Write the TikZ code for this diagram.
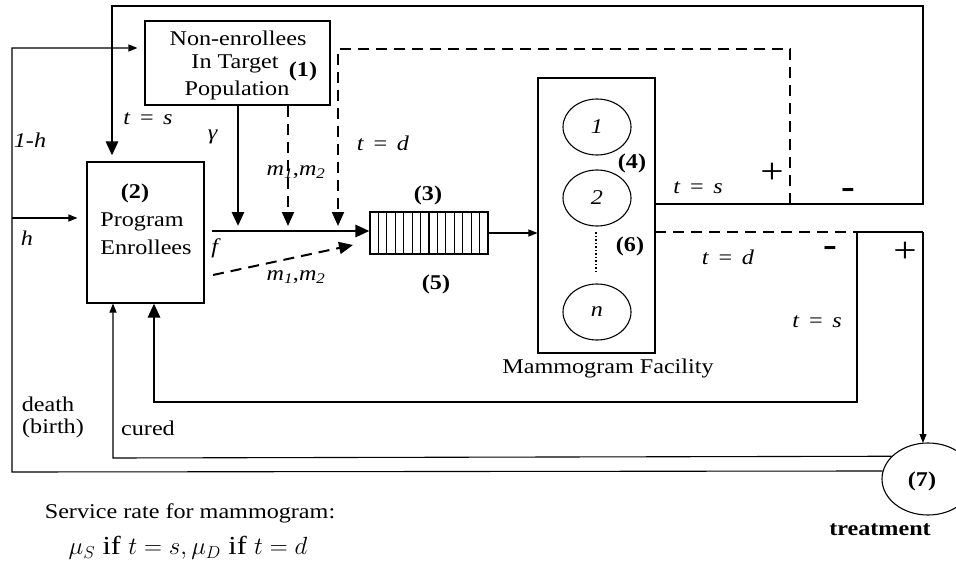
\documentclass[tikz,border=0pt]{standalone}
\usepackage{fontspec}
\setmainfont{Liberation Serif}[FakeStretch=1.15]
\usetikzlibrary{arrows.meta,shapes.geometric}
\begin{document}
\begin{tikzpicture}[x=1pt,y=-1pt,
  thk/.style={line width=2.8pt},
  thn/.style={line width=1.1pt},
  dsh/.style={line width=2pt, dash pattern=on 11pt off 7pt},
  bigtip/.style={-{Triangle[length=14pt,width=12pt]}},
  smalltip/.style={-{Triangle[length=9pt,width=7pt]}},
  box/.style={draw, line width=1.1pt, inner sep=0pt},
  srv/.style={draw, ellipse, line width=1.1pt, inner sep=0pt, minimum width=68pt, minimum height=56pt, font=\fontsize{21}{24}\selectfont},
  lbl/.style={inner sep=0pt, font=\fontsize{21}{25}\selectfont},
  sgn/.style={inner sep=0pt, font=\fontsize{36}{36}\selectfont}]
\useasboundingbox (0,0) rectangle (956,567);
% boxes
\node[box, minimum width=185pt, minimum height=84pt] (ne) at (237.5,63) {};
\node[box, minimum width=117pt, minimum height=141pt] (prog) at (145.5,232.5) {};
\node[box, minimum width=118pt, minimum height=42pt] (queue) at (429,233) {};
\foreach \i in {1,...,13} \draw[thn] ({370+\i*118/14},212) -- ({370+\i*118/14},254);
\node[box, minimum width=117pt, minimum height=275pt] (fac) at (596.5,215.5) {};
\node[srv] (s1) at (597,127) {\textit{1}};
\node[srv] (s2) at (597,198) {\textit{2}};
\node[srv] (sn) at (597,312) {\textit{n}};
\coordinate (d1) at (596,232);
\coordinate (d2) at (596,272);
\draw[line width=1.5pt, dash pattern=on 1.5pt off 2pt] (d1) -- (d2);
\node[draw, ellipse, line width=1.1pt, minimum width=92pt, minimum height=72pt, inner sep=0pt] (circ) at (928,479) {};
% coordinates
\coordinate (L48) at (12,48);
\coordinate (L218) at (12,218);
\coordinate (L472) at (12,472);
\coordinate (C458) at (113,458);
\coordinate (T0) at (112,6);
\coordinate (T1) at (923,6);
\coordinate (T2) at (923,204);
\coordinate (F204) at (655,204);
\coordinate (D1) at (790,204);
\coordinate (D2) at (790,49);
\coordinate (D3) at (338,49);
\coordinate (D4) at (338,231);
\coordinate (F232) at (655,232);
\coordinate (B1) at (857,232);
\coordinate (B2) at (857,402);
\coordinate (B3) at (154,402);
\coordinate (B4) at (923,232);
\coordinate (B5) at (923,443);
\coordinate (G1) at (238,231);
\coordinate (M1) at (288,231);
\coordinate (Fst) at (212,231);
\coordinate (Q1) at (213,275);
\coordinate (Q2) at (353,245);
% thin feedback lines
\draw[thn, smalltip, shorten >=7pt] (circ.170) -- (L472) -- (L48) -- (ne.west |- L48);
\draw[thn, smalltip, shorten >=9pt] (L218) -- (prog.west |- L218);
\draw[thn, smalltip] (circ.148) -- (C458) -- (prog.south -| C458);
% thick loops
\draw[thk, bigtip, shorten >=6pt] (F204) -- (T2) -- (T1) -- (T0) -- (prog.north -| T0);
\draw[thk, bigtip] (B1) -- (B2) -- (B3) -- (prog.south -| B3);
\draw[thn] (B1) -- (B4);
\draw[thn, smalltip] (B4) -- (B5);
\draw[dsh] (F232) -- (B1);
\draw[dsh, bigtip, shorten >=5pt] (D1) -- (D2) -- (D3) -- (D4);
% arrivals
\draw[thk, bigtip, shorten >=5pt] (ne.south -| G1) -- (G1);
\draw[dsh, bigtip, shorten >=5pt] (ne.south -| M1) -- (M1);
\draw[thk, bigtip] (Fst) -- (queue.west |- Fst);
\draw[dsh, bigtip] (Q1) -- (Q2);
\draw[thn, smalltip] (queue.east) -- (fac.west |- queue.east);
% labels
\node[lbl] (l1) at (238,38) {Non-enrollees};
\node[lbl] (l2) at (235,64) {In Target};
\node[lbl] (l3) at (303,71) {\textbf{(1)}};
\node[lbl] (l4) at (237,90) {Population};
\node[lbl] (l5) at (135,193) {\textbf{(2)}};
\node[lbl] (l6) at (142,222) {Program};
\node[lbl] (l7) at (146,247) {Enrollees};
\node[lbl] (l8) at (30,140) {\textit{1-h}};
\node[lbl] (l9) at (27,238) {\textit{h}};
\node[lbl] (l10) at (148,119) {\textit{t} \,=\, \textit{s}};
\node[lbl] (l11) at (213,137) {\textit{γ}};
\node[lbl] (l12) at (383,143) {\textit{t} \,=\, \textit{d}};
\node[lbl] (l13) at (296,172) {\textit{m}\textsubscript{\textit{1}},\textit{m}\textsubscript{\textit{2}}};
\node[lbl] (l14) at (216,248) {\textit{f}};
\node[lbl] (l15) at (296,277) {\textit{m}\textsubscript{\textit{1}},\textit{m}\textsubscript{\textit{2}}};
\node[lbl] (l16) at (428,195) {\textbf{(3)}};
\node[lbl] (l17) at (436,284) {\textbf{(5)}};
\node[lbl] (l18) at (632,163) {\textbf{(4)}};
\node[lbl] (l19) at (630,246) {\textbf{(6)}};
\node[lbl] (l20) at (698,188) {\textit{t} \,=\, \textit{s}};
\node[sgn] (l21) at (772,173) {+};
\node[sgn] (l22) at (848,193) {\textbf{-}};
\node[lbl] (l23) at (728,257) {\textit{t} \,=\, \textit{d}};
\node[sgn] (l24) at (830,251) {\textbf{-}};
\node[sgn] (l25) at (905,252) {+};
\node[lbl] (l26) at (817,322) {\textit{t} \,=\, \textit{s}};
\node[lbl] (l27) at (608,368) {Mammogram Facility};
\node[lbl] (l28) at (48,404) {death};
\node[lbl] (l29) at (53,428) {(birth)};
\node[lbl] (l30) at (148,428) {cured};
\node[lbl] (l31) at (922,481) {\textbf{(7)}};
\node[lbl] (l32) at (880,530) {\textbf{treatment}};
\node[lbl] (l33) at (190,513) {Service rate for mammogram:};
\node[inner sep=0pt, font=\fontsize{26}{30}\selectfont] (l34) at (188,548) {$\mu_S$ if $t=s, \mu_D$ if $t=d$};
\end{tikzpicture}
\end{document}
